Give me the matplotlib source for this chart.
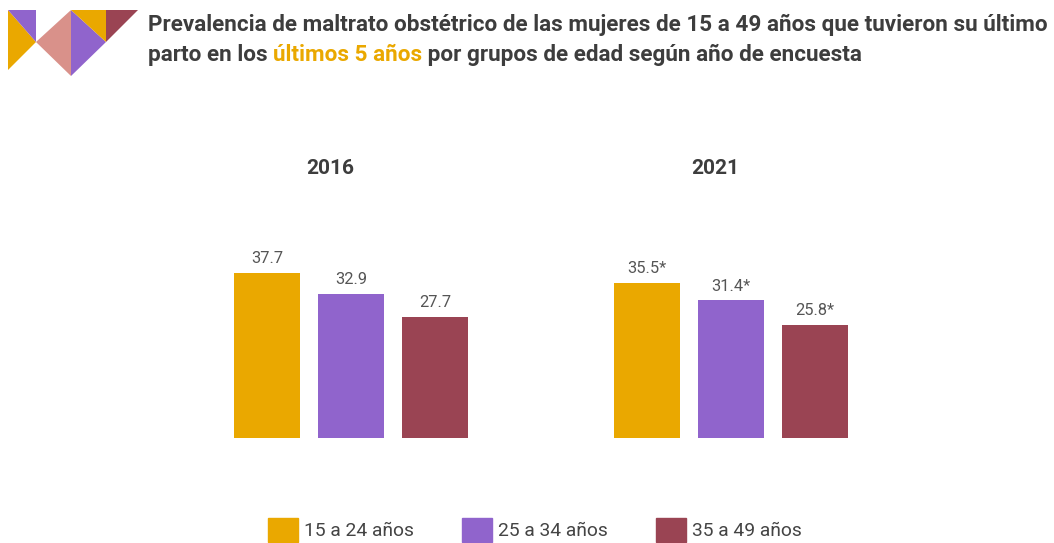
import matplotlib.pyplot as plt
from matplotlib.patches import Polygon, Patch

plt.rcParams['font.family'] = ['Roboto', 'DejaVu Sans']

# data
years = ["2016", "2021"]
groups = ["15 a 24 años", "25 a 34 años", "35 a 49 años"]
values_2016 = [37.7, 32.9, 27.7]
values_2021 = [35.5, 31.4, 25.8]
labels_2016 = ["37.7", "32.9", "27.7"]
labels_2021 = ["35.5*", "31.4*", "25.8*"]
colors = ["#EAA800", "#9064CC", "#9A4453"]

W, H = 1054, 543
fig = plt.figure(figsize=(W / 100, H / 100), dpi=100)

def px_rect(x0, y_top, x1, y_bottom):
    return [x0 / W, 1 - y_bottom / H, (x1 - x0) / W, (y_bottom - y_top) / H]

# logo made of triangles, in pixel coords (top-left origin)
logo = fig.add_axes([0, 0, 1, 1])
logo.set_xlim(0, W)
logo.set_ylim(H, 0)
logo.axis("off")
tris = [
    ([(8, 10), (36, 42), (8, 70)], "#EAA800"),
    ([(8, 10), (36, 10), (36, 42)], "#9064CC"),
    ([(36, 42), (71, 10), (71, 76)], "#D9918A"),
    ([(71, 10), (106, 42), (71, 76)], "#9064CC"),
    ([(71, 10), (106, 10), (106, 42)], "#EAA800"),
    ([(106, 10), (138, 10), (106, 42)], "#9A4453"),
]
for pts, c in tris:
    logo.add_patch(Polygon(pts, closed=True, color=c, lw=0))

# title
title_color = "#3D3D3D"
tsize = 16.2
fig.text(148 / W, 1 - 31 / H,
         "Prevalencia de maltrato obstétrico de las mujeres de 15 a 49 años que tuvieron su último",
         fontsize=tsize, fontweight="bold", color=title_color, va="baseline", ha="left")

fig.canvas.draw()
renderer = fig.canvas.get_renderer()
x = 148
parts = [("parto en los ", title_color), ("últimos 5 años", "#EAA800"),
         (" por grupos de edad según año de encuesta", title_color)]
for txt, c in parts:
    t = fig.text(x / W, 1 - 61 / H, txt, fontsize=tsize, fontweight="bold",
                 color=c, va="baseline", ha="left")
    bb = t.get_window_extent(renderer)
    x += bb.width

# bar panels
ymax = 65
bottom_px = 438
top_px = bottom_px - ymax * 4.38
panels = [(years[0], values_2016, labels_2016, 200, 330),
          (years[1], values_2021, labels_2021, 580, 715)]
pos = [0, 1, 2]
for year, vals, labs, x0, title_x in panels:
    ax = fig.add_axes(px_rect(x0, top_px, x0 + 300, bottom_px))
    bars = ax.bar(pos, vals, width=0.79, color=colors)
    for b, lab in zip(bars, labs):
        ax.annotate(lab, (b.get_x() + b.get_width() / 2, b.get_height()),
                    xytext=(0, 5), textcoords="offset points", ha="center", va="bottom",
                    fontsize=11.8, color="#555555")
    ax.set_xlim(-67 / 84, 233 / 84)
    ax.set_ylim(0, ymax)
    ax.axis("off")
    fig.text(title_x / W, 1 - 169 / H, year, fontsize=15, fontweight="bold",
             color=title_color, ha="center", va="center")

# legend
handles = [Patch(color=c, label=g) for c, g in zip(colors, groups)]
fig.legend(handles=handles, loc="center", bbox_to_anchor=(535 / W, 1 - 530 / H),
           ncol=3, frameon=False, fontsize=13.9, handlelength=1.55, handleheight=1.55,
           handletextpad=0.3, columnspacing=2.5, labelcolor="#444444")

fig.savefig("out.png", dpi=100)
